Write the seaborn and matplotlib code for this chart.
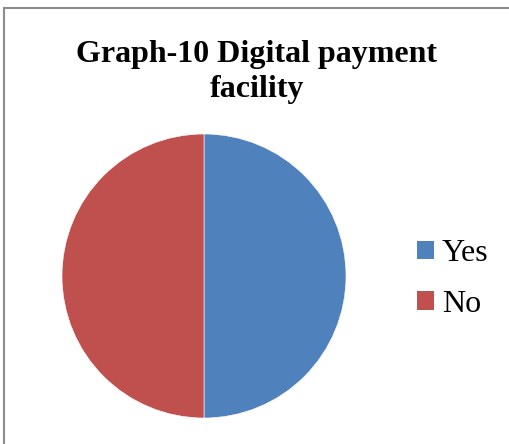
import matplotlib
matplotlib.use("Agg")
import matplotlib.pyplot as plt
import seaborn as sns
from matplotlib.patches import Rectangle, Patch

sns.set_theme(style="white")
plt.rcParams["font.family"] = ["Liberation Serif", "DejaVu Serif"]
plt.rcParams["text.color"] = "black"

# Survey answers
categories = ["Yes", "No"]
shares = [50, 50]
colors = ["#4F81BD", "#C0504D"]
title_lines = ["Graph-10 Digital payment", "facility"]

W, H = 510, 444
fig = plt.figure(figsize=(W / 100, H / 100), dpi=100)

# chart frame (left and top edges visible)
fig.patches.append(Rectangle((4 / W, -0.1), 1.2, 1 - 8 / H + 0.1,
                             transform=fig.transFigure, fill=False,
                             edgecolor="#8c8c8c", linewidth=1.5, zorder=0))

cx, cy, r = 204, 276, 142
ax = fig.add_axes([(cx - r) / W, (H - cy - r) / H, 2 * r / W, 2 * r / H])
ax.pie(shares, colors=colors, startangle=90, counterclock=False,
       radius=1, wedgeprops=dict(edgecolor="white", linewidth=0.4))
ax.set_xlim(-1, 1)
ax.set_ylim(-1, 1)
ax.set_aspect("equal")
ax.axis("off")

# two-line bold title
for line, base in zip(title_lines, [62, 97]):
    fig.text(257 / W, 1 - base / H, line, ha="center", va="baseline",
             fontsize=23, fontweight="bold", color="black")

handles = [Patch(facecolor=c, edgecolor="none") for c in colors]
fig.legend(handles, categories, loc="center left",
           bbox_to_anchor=(404 / W, 1 - 279 / H), frameon=False,
           borderaxespad=0, fontsize=23, handlelength=0.53, handleheight=0.53,
           handletextpad=0.25, labelspacing=0.67, labelcolor="black")

fig.savefig("out.png", dpi=100)
